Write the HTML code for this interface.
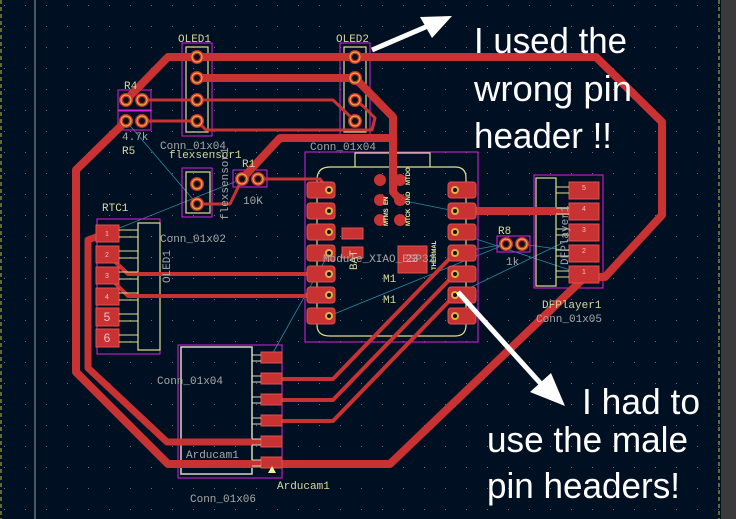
<!DOCTYPE html>
<html><head><style>
html,body{margin:0;padding:0;background:#001023;}
svg{display:block;}
.s{font-family:"Liberation Mono",monospace;fill:#d8d89a;font-size:11px;}
.g{font-family:"Liberation Mono",monospace;fill:#a8a8a8;font-size:11px;}
.w{font-family:"Liberation Sans",sans-serif;fill:#fff;font-size:36px;}
.t{stroke:#c83232;fill:none;stroke-linecap:round;stroke-linejoin:round;}
.pad{fill:#c83232;stroke:#e05050;stroke-width:1;}
.mg{fill:none;stroke:#e020e0;stroke-width:1;}
.sk{fill:none;stroke:#e0e090;stroke-width:1.2;}
.rt{stroke:#2a8aa0;stroke-width:0.8;fill:none;}
</style></head><body>
<svg width="736" height="519" viewBox="0 0 736 519" xmlns="http://www.w3.org/2000/svg">
<defs>
<pattern id="grid" width="21" height="21" patternUnits="userSpaceOnUse" x="4" y="5">
<rect x="0" y="0" width="1" height="1" fill="#6a7080"/></pattern>
<g id="th"><circle r="7" fill="#c83232"/><circle r="5" fill="none" stroke="#e0b040" stroke-width="1.2"/><circle r="3" fill="#111"/></g>
</defs>
<rect width="736" height="519" fill="#001023"/>
<rect width="736" height="519" fill="url(#grid)"/>
<line x1="1" y1="0" x2="1" y2="519" stroke="#c8c040" stroke-dasharray="4,3"/>
<line x1="35" y1="0" x2="35" y2="519" stroke="#9a9a9a" stroke-width="1"/>
<line x1="719" y1="0" x2="719" y2="519" stroke="#c8c040" stroke-dasharray="4,3"/>
<rect x="721" y="0" width="15" height="519" fill="#3a3a3a"/>

<path class="rt" d="M126 121 L197 204 M242 179 L107 233 M400 200 L455 211 M455 232 L585 275 M506 244 L455 253 M506 244 L329 316 M522 244 L585 253 M455 295 L585 232 M329 253 L270 358"/>

<rect class="mg" x="182" y="43" width="30" height="93"/><rect class="sk" x="186" y="47" width="22" height="85"/>
<rect class="mg" x="340" y="43" width="30" height="93"/><rect class="sk" x="344" y="47" width="22" height="85"/>
<rect class="mg" x="118" y="90" width="33" height="20"/><rect class="mg" x="118" y="111" width="33" height="19"/>
<rect class="mg" x="182" y="168" width="30" height="49"/><rect class="sk" x="186" y="172" width="24" height="41"/>
<rect class="mg" x="233" y="170" width="34" height="17"/>
<rect class="mg" x="305" y="152" width="173" height="190"/>
<path class="sk" d="M330 167 L455 167 Q466 167 466 178 L466 325 Q466 336 455 336 L330 336 Q317 336 317 325 L317 180 Q317 167 330 167 Z M355 167 L355 153 L430 153 L430 167"/>
<rect class="mg" x="534" y="175" width="69" height="113"/><rect class="sk" x="536" y="178" width="20" height="108"/>
<rect class="mg" x="497" y="236" width="33" height="16"/>
<rect class="mg" x="97" y="219" width="63" height="135"/><rect class="sk" x="138" y="223" width="22" height="127"/>
<rect class="mg" x="178" y="345" width="104" height="133"/><rect fill="none" stroke="#d8d8c0" stroke-width="1.5" x="181" y="347" width="71" height="127"/>

<path class="t" stroke-width="8" d="M126 100 L168 57 L596 57 L662 122 L662 215 L605 277 L585 277 M585 277 L390 464 L168 464 L76 372 L76 170 L126 121"/>
<path class="t" stroke-width="8" d="M197 78 L355 78 L393 117 L393 192 L400 200 M393 138 L280 138 L242 179"/>
<path class="t" stroke-width="7" d="M107 233 L88 240 L88 368 L167 442 L272 442"/>
<path class="t" stroke-width="8" d="M455 211 L585 211"/>
<path class="t" stroke-width="3" d="M142 100 L333 100 L355 121 M142 121 L197 121 L206 130 L372 130 L375 118 L363 106 L355 100 M197 204 L230 204 L242 179 M258 179 L320 179 L329 190"/>
<path class="t" stroke-width="4" d="M107 254 L128 274 L329 274 M107 275 L128 296 L329 296 M270 379 L333 379 L455 253 M270 400 L333 400 L455 274 M270 421 L333 421 L455 295"/>

<use href="#th" x="197" y="57"/><use href="#th" x="197" y="78"/><use href="#th" x="197" y="100"/><use href="#th" x="197" y="121"/>
<use href="#th" x="355" y="57"/><use href="#th" x="355" y="78"/><use href="#th" x="355" y="100"/><use href="#th" x="355" y="121"/>
<use href="#th" x="126" y="100"/><use href="#th" x="142" y="100"/><use href="#th" x="126" y="121"/><use href="#th" x="142" y="121"/>
<use href="#th" x="197" y="184"/><use href="#th" x="197" y="204"/>
<use href="#th" x="242" y="179"/><use href="#th" x="258" y="179"/>
<use href="#th" x="506" y="244"/><use href="#th" x="522" y="244"/>

<g>
<rect class="pad" x="307" y="182" width="28" height="16" rx="3"/><rect class="pad" x="307" y="203" width="28" height="16" rx="3"/><rect class="pad" x="307" y="224" width="28" height="16" rx="3"/><rect class="pad" x="307" y="245" width="28" height="16" rx="3"/><rect class="pad" x="307" y="266" width="28" height="16" rx="3"/><rect class="pad" x="307" y="287" width="28" height="16" rx="3"/><rect class="pad" x="307" y="308" width="28" height="16" rx="3"/>
<rect class="pad" x="448" y="182" width="28" height="16" rx="3"/><rect class="pad" x="448" y="203" width="28" height="16" rx="3"/><rect class="pad" x="448" y="224" width="28" height="16" rx="3"/><rect class="pad" x="448" y="245" width="28" height="16" rx="3"/><rect class="pad" x="448" y="266" width="28" height="16" rx="3"/><rect class="pad" x="448" y="287" width="28" height="16" rx="3"/><rect class="pad" x="448" y="308" width="28" height="16" rx="3"/>
</g>
<g fill="#e0b040"><circle cx="329" cy="190" r="4"/><circle cx="329" cy="211" r="4"/><circle cx="329" cy="232" r="4"/><circle cx="329" cy="253" r="4"/><circle cx="329" cy="274" r="4"/><circle cx="329" cy="295" r="4"/><circle cx="329" cy="316" r="4"/>
<circle cx="455" cy="190" r="4"/><circle cx="455" cy="211" r="4"/><circle cx="455" cy="232" r="4"/><circle cx="455" cy="253" r="4"/><circle cx="455" cy="274" r="4"/><circle cx="455" cy="295" r="4"/><circle cx="455" cy="316" r="4"/></g>
<g fill="#111"><circle cx="329" cy="190" r="2"/><circle cx="329" cy="211" r="2"/><circle cx="329" cy="232" r="2"/><circle cx="329" cy="253" r="2"/><circle cx="329" cy="274" r="2"/><circle cx="329" cy="295" r="2"/><circle cx="329" cy="316" r="2"/>
<circle cx="455" cy="190" r="2"/><circle cx="455" cy="211" r="2"/><circle cx="455" cy="232" r="2"/><circle cx="455" cy="253" r="2"/><circle cx="455" cy="274" r="2"/><circle cx="455" cy="295" r="2"/><circle cx="455" cy="316" r="2"/></g>
<g fill="#c83232"><circle cx="380" cy="180" r="6"/><circle cx="400" cy="180" r="6"/><circle cx="380" cy="200" r="6"/><circle cx="400" cy="200" r="6"/><circle cx="380" cy="220" r="6"/><circle cx="400" cy="220" r="6"/></g>
<rect class="pad" x="342" y="228" width="21" height="11"/><rect class="pad" x="342" y="247" width="21" height="11"/>
<rect class="pad" x="398" y="246" width="29" height="27"/>
<text x="412" y="262" font-family="Liberation Sans" font-size="11" fill="#f0c0c0" text-anchor="middle">23</text>
<g font-family="Liberation Sans" font-size="6" font-weight="bold" fill="#f0f0a0">
<text x="388" y="205" transform="rotate(-90 388 205)">EN</text><text x="410" y="205" transform="rotate(-90 410 205)">GND</text>
<text x="410" y="185" transform="rotate(-90 410 185)">MTDO</text><text x="388" y="226" transform="rotate(-90 388 226)">MTMS</text><text x="410" y="226" transform="rotate(-90 410 226)">MTCK</text>
<text x="436" y="270" transform="rotate(-90 436 270)">THERMAL</text></g>

<g><rect class="pad" x="569" y="182" width="30" height="17"/><rect class="pad" x="569" y="203" width="30" height="17"/><rect class="pad" x="569" y="224" width="30" height="17"/><rect class="pad" x="569" y="245" width="30" height="17"/><rect class="pad" x="569" y="266" width="30" height="17"/></g>
<g stroke="#e0e090" stroke-width="1"><path d="M556 187 H569 M556 193 H569 M556 208 H569 M556 214 H569 M556 229 H569 M556 235 H569 M556 250 H569 M556 256 H569 M556 271 H569 M556 277 H569"/></g>
<g font-family="Liberation Sans" fill="#f0c0c0" text-anchor="middle" font-size="7"><text x="584" y="190">5</text><text x="584" y="211">4</text><text x="584" y="232">3</text><text x="584" y="253">2</text><text x="584" y="274">1</text></g>
<g><rect class="pad" x="96" y="225" width="23" height="17"/><rect class="pad" x="96" y="246" width="23" height="17"/><rect class="pad" x="96" y="267" width="23" height="17"/><rect class="pad" x="96" y="288" width="23" height="17"/><rect class="pad" x="96" y="308" width="23" height="18"/><rect class="pad" x="96" y="329" width="23" height="18"/></g>
<g stroke="#e0e090" stroke-width="1"><path d="M119 230 H138 M119 237 H138 M119 251 H138 M119 258 H138 M119 272 H138 M119 279 H138 M119 293 H138 M119 300 H138 M119 314 H138 M119 321 H138 M119 335 H138 M119 342 H138"/></g>
<g font-family="Liberation Sans" fill="#f0c0c0" text-anchor="middle"><text x="107" y="321" font-size="12">5</text><text x="107" y="342" font-size="12">6</text><text x="107" y="236" font-size="7">1</text><text x="107" y="257" font-size="7">2</text><text x="107" y="278" font-size="7">3</text><text x="107" y="299" font-size="7">4</text></g>
<g><rect class="pad" x="261" y="352" width="21" height="11"/><rect class="pad" x="261" y="373" width="21" height="11"/><rect class="pad" x="261" y="394" width="21" height="11"/><rect class="pad" x="261" y="415" width="21" height="11"/><rect class="pad" x="261" y="436" width="21" height="11"/><rect class="pad" x="261" y="457" width="21" height="11"/></g>
<g stroke="#d8d8c0" stroke-width="1"><path d="M252 355 H261 M252 361 H261 M252 376 H261 M252 382 H261 M252 397 H261 M252 403 H261 M252 418 H261 M252 424 H261 M252 439 H261 M252 445 H261 M252 460 H261 M252 466 H261"/></g>
<polygon points="272,466 268,473 276,473" fill="#f0f0a0"/>

<text class="s" x="178" y="42">OLED1</text><text class="s" x="336" y="42">OLED2</text>
<text class="s" x="124" y="89">R4</text><text class="g" x="122" y="140">4.7k</text><text class="s" x="122" y="154">R5</text>
<text class="g" x="160" y="149">Conn_01x04</text><text class="s" x="169" y="158">flexsensor1</text>
<text class="s" x="242" y="167">R1</text><text class="g" x="243" y="204">10K</text>
<text class="g" x="228" y="220" transform="rotate(-90 228 220)">flexsensor1</text>
<text class="g" x="310" y="150">Conn_01x04</text>
<text class="s" x="102" y="211">RTC1</text><text class="g" x="160" y="242">Conn_01x02</text>
<text class="g" x="170" y="283" transform="rotate(-90 170 283)">OLED1</text>
<text class="g" x="323" y="262">Module_XIAO_ESP32</text>
<text class="s" x="383" y="282">M1</text><text class="s" x="383" y="303">M1</text>
<text class="s" x="357" y="270" transform="rotate(-90 357 270)">BAT</text>
<text class="s" x="498" y="234">R8</text><text class="g" x="506" y="265">1k</text>
<text class="g" x="568" y="265" transform="rotate(-90 568 265)">DFPlayer1</text>
<text class="s" x="542" y="308">DFPlayer1</text><text class="g" x="536" y="322">Conn_01x05</text>
<text class="g" x="157" y="384">Conn_01x04</text>
<text class="g" x="186" y="458">Arducam1</text>
<text class="s" x="277" y="489">Arducam1</text>
<text class="g" x="190" y="502">Conn_01x06</text>

<path d="M372 50 L428 26" stroke="#fff" stroke-width="5"/>
<polygon points="452,16 420,17 432,38" fill="#fff"/>
<path d="M458 292 L542 385" stroke="#fff" stroke-width="5"/>
<polygon points="565,406 530,392 551,373" fill="#fff"/>
<text class="w" x="474" y="53" textLength="153" lengthAdjust="spacingAndGlyphs">I used the</text>
<text class="w" x="474" y="101" textLength="158" lengthAdjust="spacingAndGlyphs">wrong pin</text>
<text class="w" x="474" y="148" textLength="138" lengthAdjust="spacingAndGlyphs">header !!</text>
<text class="w" x="582" y="414" textLength="118" lengthAdjust="spacingAndGlyphs">I had to</text>
<text class="w" x="487" y="452" textLength="201" lengthAdjust="spacingAndGlyphs">use the male</text>
<text class="w" x="487" y="498" textLength="193" lengthAdjust="spacingAndGlyphs">pin headers!</text>
</svg>
</body></html>
